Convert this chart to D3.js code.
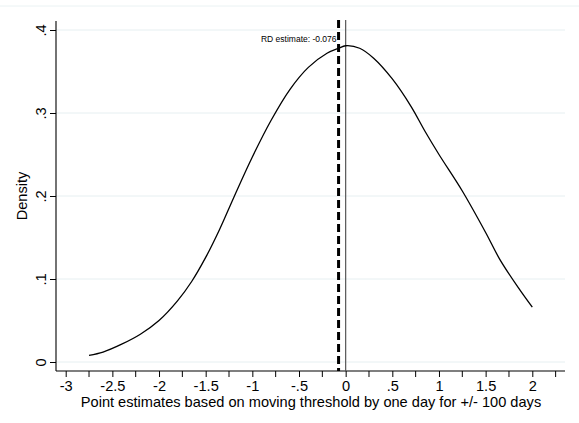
<!DOCTYPE html>
<html>
<head>
<meta charset="utf-8">
<script src="https://cdn.jsdelivr.net/npm/d3@7"></script>
<style>
  body { margin: 0; background: #fff; }
  svg { display: block; font-family: "Liberation Sans", Arial, sans-serif; }
</style>
</head>
<body>
<svg></svg>
<script>
// kernel density of point estimates
var densX = [-2.75, -2.6, -2.4, -2.2, -2.0, -1.8, -1.65, -1.5, -1.35, -1.2, -1.0, -0.8, -0.6, -0.4, -0.2, -0.076, 0, 0.15, 0.3, 0.5, 0.7, 0.85, 1.0, 1.25, 1.5, 1.65, 1.85, 2.0];
var densY = [0.008, 0.012, 0.0215, 0.0335, 0.050, 0.074, 0.097, 0.126, 0.160, 0.198, 0.247, 0.291, 0.328, 0.355, 0.372, 0.378, 0.381, 0.378, 0.366, 0.341, 0.308, 0.278, 0.250, 0.206, 0.156, 0.124, 0.0895, 0.066];

var xTicks = [-3, -2.5, -2, -1.5, -1, -0.5, 0, 0.5, 1, 1.5, 2];
var xMinor = [-2.75, -2.25, -1.75, -1.25, -0.75, -0.25, 0.25, 0.75, 1.25, 1.75, 2.25];
var yTicks = [0, 0.1, 0.2, 0.3, 0.4];
var rdEstimate = -0.076;
var cutoff = 0;

var config = { w: 579, h: 423, left: 56, right: 565, top: 21, bottom: 371, fs: 14.6 };

var x = d3.scaleLinear().domain([-3, 2]).range([65.7, 532.3]);
var y = d3.scaleLinear().domain([0, 0.4]).range([362, 30]);

function fmt(v) {
  if (v === 0) return "0";
  return String(v).replace(/^(-?)0\./, "$1.");
}

var svg = d3.select("svg").attr("width", config.w).attr("height", config.h);

// faint outer frame line at the top
svg.append("line")
  .attr("x1", 0).attr("x2", config.w).attr("y1", 6).attr("y2", 6)
  .attr("stroke", "#eaf2f3").attr("stroke-width", 1);

// gridlines
svg.append("g").selectAll("line")
  .data(yTicks)
  .enter().append("line")
    .attr("x1", config.left).attr("x2", config.right)
    .attr("y1", function(d) { return y(d); })
    .attr("y2", function(d) { return y(d); })
    .attr("stroke", "#e6eff1").attr("stroke-width", 1);

// x axis
var xAxis = d3.axisBottom(x).tickValues(xTicks).tickSize(6).tickPadding(3.5).tickFormat(fmt);
var gx = svg.append("g").attr("transform", "translate(0," + config.bottom + ")").call(xAxis);
gx.select(".domain").remove();
gx.append("line").attr("x1", config.left).attr("x2", config.right)
  .attr("stroke", "#000").attr("stroke-width", 1.1);
gx.selectAll(".tick line").attr("stroke", "#000");
gx.selectAll("text").attr("font-size", config.fs).attr("fill", "#000")
  .attr("font-family", '"Liberation Sans", Arial, sans-serif');
gx.append("g").selectAll("line")
  .data(xMinor)
  .enter().append("line")
    .attr("x1", function(d) { return x(d); })
    .attr("x2", function(d) { return x(d); })
    .attr("y1", 0).attr("y2", 6)
    .attr("stroke", "#000");

// y axis
var yAxis = d3.axisLeft(y).tickValues(yTicks).tickSize(6).tickFormat(fmt);
var gy = svg.append("g").attr("transform", "translate(" + config.left + ",0)").call(yAxis);
gy.select(".domain").remove();
gy.append("line").attr("y1", config.top).attr("y2", config.bottom)
  .attr("stroke", "#000").attr("stroke-width", 1.1);
gy.selectAll(".tick line").attr("stroke", "#000");
gy.selectAll("text")
  .attr("font-size", config.fs).attr("fill", "#000")
  .attr("font-family", '"Liberation Sans", Arial, sans-serif')
  .attr("x", null).attr("dy", null)
  .attr("text-anchor", "middle")
  .attr("transform", "translate(-10,0) rotate(-90)");

// axis titles
svg.append("text")
  .attr("x", (config.left + config.right) / 2 + 0.5).attr("y", 407)
  .attr("text-anchor", "middle").attr("font-size", config.fs)
  .text("Point estimates based on moving threshold by one day for +/- 100 days");

svg.append("text")
  .attr("transform", "translate(27,196) rotate(-90)")
  .attr("text-anchor", "middle").attr("font-size", config.fs)
  .text("Density");

// vertical reference lines
svg.append("line")
  .attr("x1", x(cutoff)).attr("x2", x(cutoff))
  .attr("y1", 20).attr("y2", config.bottom)
  .attr("stroke", "#555").attr("stroke-width", 1.2);

svg.append("line")
  .attr("x1", x(rdEstimate)).attr("x2", x(rdEstimate))
  .attr("y1", 20).attr("y2", config.bottom)
  .attr("stroke", "#000").attr("stroke-width", 3)
  .attr("stroke-dasharray", "8,4");

svg.append("text")
  .attr("x", x(rdEstimate) - 2).attr("y", 42)
  .attr("text-anchor", "end").attr("font-size", 8.5)
  .text("RD estimate: -0.076");

// density curve
var pts = densX.map(function(d, i) { return { x: d, y: densY[i] }; });
var line = d3.line()
  .curve(d3.curveCatmullRom)
  .x(function(d) { return x(d.x); })
  .y(function(d) { return y(d.y); });

svg.append("path")
  .datum(pts)
  .attr("d", line)
  .attr("fill", "none")
  .attr("stroke", "#000")
  .attr("stroke-width", 1.3);
</script>
</body>
</html>
